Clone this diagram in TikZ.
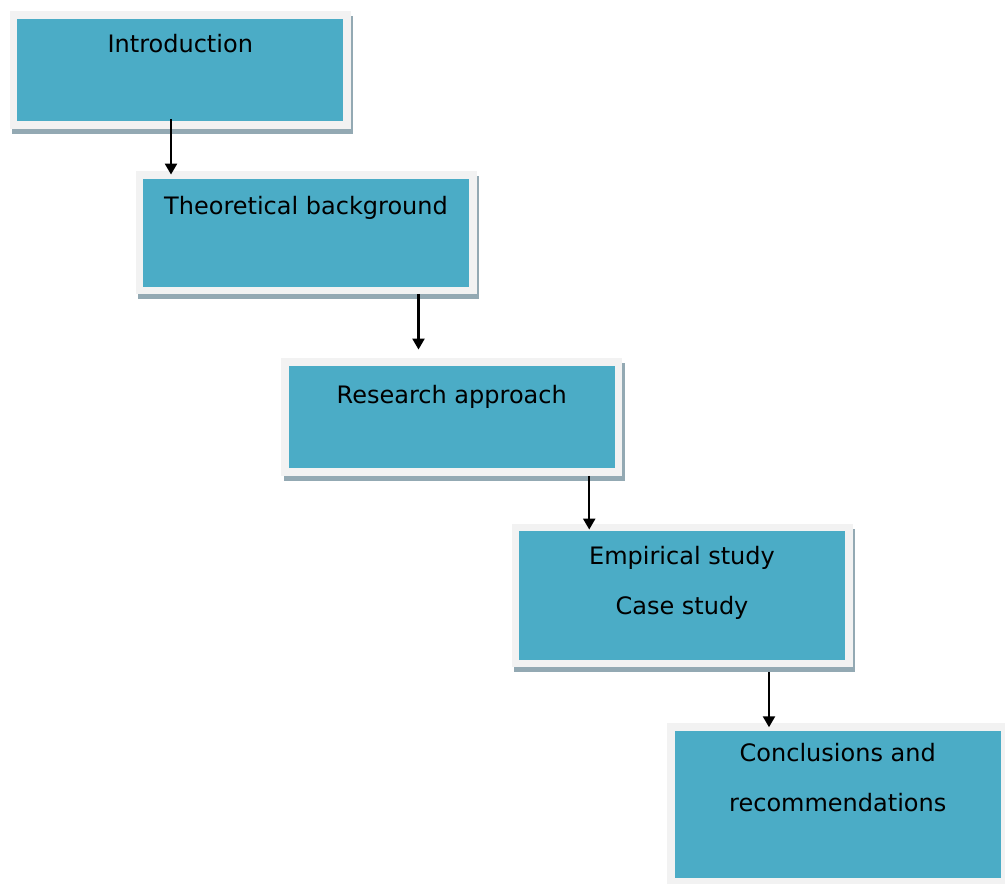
\documentclass[tikz,border=0pt]{standalone}
\usepackage{fontspec}
\setmainfont{DejaVu Sans}
\usetikzlibrary{arrows.meta,shadows}
\definecolor{boxteal}{HTML}{4BACC6}
\definecolor{boxframe}{HTML}{F2F2F2}
\definecolor{boxshadow}{HTML}{93A9B3}
\newcommand\colorStage{boxteal}
\newcommand\colorFrame{boxframe}
\newcommand\colorShadow{boxshadow}
\newcommand\stageWidth{333.5pt}
\newcommand\stageFrame{7.5pt}
\tikzset{
	stage/.style={rectangle, fill=\colorStage, draw=\colorFrame,
		line width=\stageFrame, minimum width=\stageWidth, inner sep=0pt,
		drop shadow={shadow xshift=2.5pt, shadow yshift=-5pt,
			fill=\colorShadow, draw=\colorShadow, line width=\stageFrame, opacity=1}},
	stagetext/.style={anchor=base, align=center, inner sep=0pt,
		font=\fontsize{24}{50}\selectfont},
	flow/.style={line width=2.4pt, -{Triangle[width=12pt,length=11pt]}}
}

\begin{document}
\begin{tikzpicture}[x=1pt, y=-1pt]
	\useasboundingbox (0,0) rectangle (1005,884);
	
	\node[stage, minimum height=110pt]   (intro)     at (180.25,70)   {};
	\node[stage, minimum height=115.5pt] (theory)    at (306,232.75)  {};
	\node[stage, minimum height=110pt]   (approach)  at (451.75,417)  {};
	\node[stage, minimum height=136pt]   (empirical) at (682,595.3)   {};
	\node[stage, minimum height=155pt]   (concl)     at (837.75,804.5) {};
	
	% base of a two-line text is its last line
	\node[stagetext] (introtext)     at ([yshift=-41.5pt]intro.north)     {Introduction};
	\node[stagetext] (theorytext)    at ([yshift=-43pt]theory.north)      {Theoretical background};
	\node[stagetext] (approachtext)  at ([yshift=-45.5pt]approach.north)  {Research approach};
	\node[stagetext] (empiricaltext) at ([yshift=-90.5pt]empirical.north) {Empirical study\\Case study};
	\node[stagetext] (concltext)     at ([yshift=-88pt]concl.north)       {Conclusions and\\recommendations};
	
	\coordinate (a1) at ([xshift=-9.25pt,yshift=10pt]intro.south);
	\coordinate (a2) at ([xshift=112.5pt,yshift=0.5pt]theory.south);
	\coordinate (a3) at ([xshift=137.5pt]approach.south);
	\coordinate (a4) at ([xshift=87pt,yshift=-4.7pt]empirical.south);
	\draw[flow] (a1) -- ([yshift=-3.3pt]a1 |- theory.north);
	\draw[flow] (a2) -- ([yshift=8.7pt]a2 |- approach.north);
	\draw[flow] (a3) -- ([yshift=-6pt]a3 |- empirical.north);
	\draw[flow] (a4) -- ([yshift=-4pt]a4 |- concl.north);
\end{tikzpicture}
\end{document}
